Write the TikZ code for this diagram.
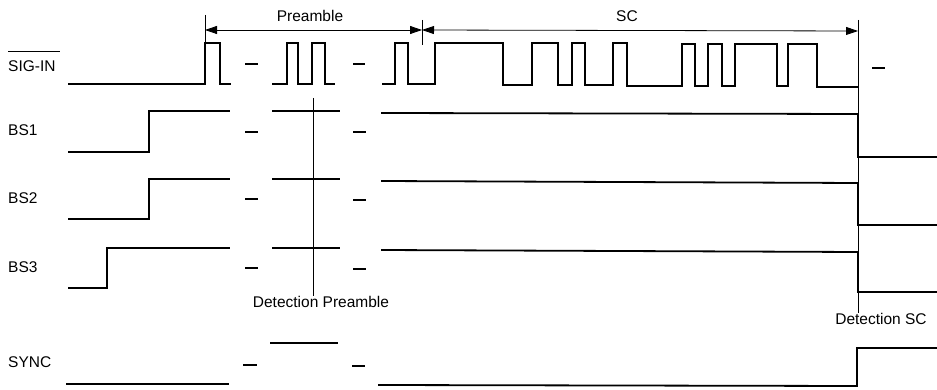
\documentclass[tikz,border=0pt]{standalone}
\usepackage{fontspec}
\setmainfont{Liberation Sans}
\usetikzlibrary{arrows.meta}
\begin{document}
\begin{tikzpicture}[x=1pt,y=-1pt,
  sig/.style={line width=1.8pt,line join=miter,line cap=butt},
  thin/.style={line width=0.8pt},
  dim/.style={line width=0.8pt,{Triangle[length=12pt,width=8pt]}-{Triangle[length=12pt,width=8pt]}},
  lbl/.style={font=\fontsize{15.5}{18}\selectfont,inner sep=0pt},
  gapmark/.style={line width=1.8pt}]
\useasboundingbox (0,0) rectangle (937,390);
% labels
\node[lbl,anchor=west] (sigin) at (8,66) {SIG-IN};
\draw[line width=1pt] (8,52) -- (60,52);
\node[lbl,anchor=west] (bs1) at (8,130) {BS1};
\node[lbl,anchor=west] (bs2) at (8,198) {BS2};
\node[lbl,anchor=west] (bs3) at (8,267) {BS3};
\node[lbl,anchor=west] (sync) at (8,362) {SYNC};
\node[lbl] (pre) at (310,16) {Preamble};
\node[lbl] (sc) at (627,16) {SC};
\node[lbl] (detp) at (321,302) {Detection Preamble};
\node[lbl] (dets) at (881,319) {Detection SC};
% dimension markers
\coordinate (pa) at (205,30);
\coordinate (pb) at (422,30);
\coordinate (pc) at (858,31);
\draw[thin] (205,15) -- (205,43);
\draw[thin] (422,20) -- (422,45);
\draw[thin] (858,20) -- (dets.north -| 858,0);
\draw[thin] (313,98) -- (detp.north -| 313,0);
\draw[dim] (pa) -- (pb);
\draw[dim] (pb) -- (pc);
% SIG-IN
\draw[sig] (68,84) -- (205,84) |- (220,43) |- (231,84);
\draw[sig] (272,84) -| (287,43) -| (298,84) -| (312,43) -| (325,84) -- (335,84);
\draw[sig] (382,84) -| (395,43) -| (408,84) -| (435,43) -| (503,85) -| (532,43)
  -| (558,85) -| (572,43) -| (585,85) -| (613,43) -| (627,86) -| (682,44)
  -| (695,86) -| (708,44) -| (722,86) -| (735,44) -| (777,86) -| (788,44)
  -| (817,87) -- (858,87);
\draw[gapmark] (245,64) -- (258,64);
\draw[gapmark] (353,64) -- (365,64);
\draw[gapmark] (872,68) -- (885,68);
% BS1
\draw[sig] (68,152) -| (149,111) -- (230,111);
\draw[sig] (272,111) -- (340,111);
\draw[sig] (381,113) -- (858,114) |- (937,157);
\draw[gapmark] (245,132) -- (258,132);
\draw[gapmark] (353,132) -- (366,132);
% BS2
\draw[sig] (68,219) -| (149,179) -- (230,179);
\draw[sig] (272,179) -- (340,179);
\draw[sig] (381,181) -- (858,183) |- (937,225);
\draw[gapmark] (245,199) -- (258,199);
\draw[gapmark] (353,200) -- (366,200);
% BS3
\draw[sig] (68,288) -| (107,248) -- (230,248);
\draw[sig] (272,248) -- (340,248);
\draw[sig] (381,250) -- (858,252) |- (937,292);
\draw[gapmark] (245,268) -- (258,268);
\draw[gapmark] (353,269) -- (366,269);
% SYNC
\draw[sig] (66,384) -- (229,384);
\draw[sig] (270,343) -- (338,343);
\draw[sig] (378,385) -- (857,386) |- (937,348);
\draw[gapmark] (243,365) -- (257,365);
\draw[gapmark] (352,366) -- (365,366);
\end{tikzpicture}
\end{document}
